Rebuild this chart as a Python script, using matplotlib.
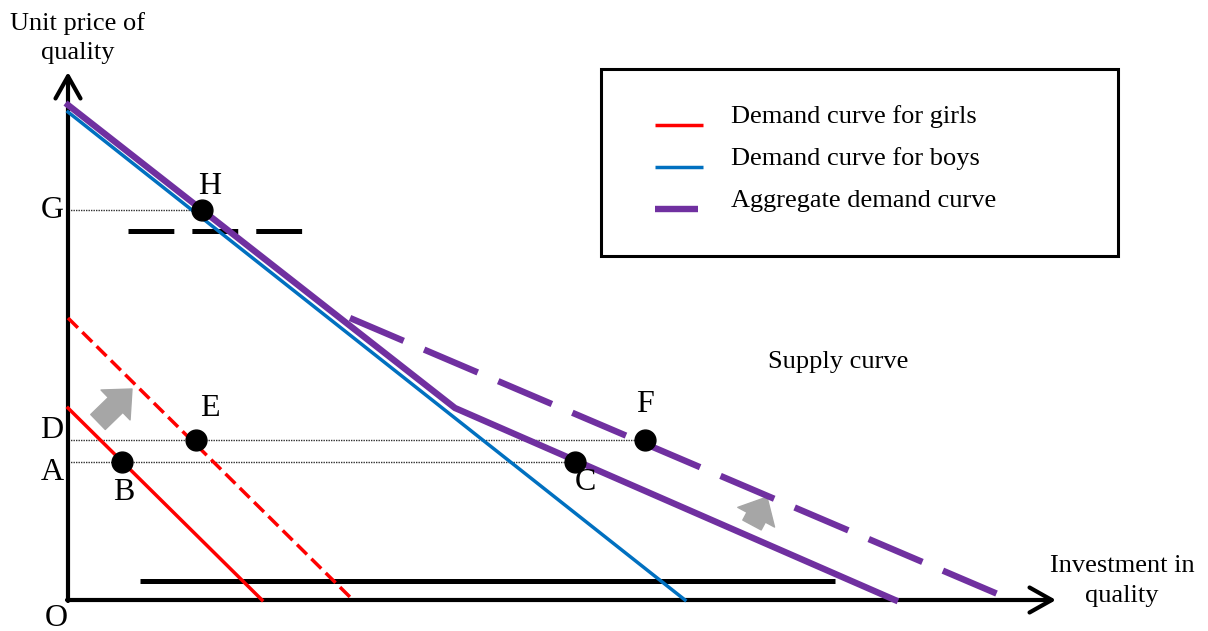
import matplotlib
matplotlib.use("Agg")
import matplotlib.pyplot as plt

plt.rcParams['font.family'] = ['Liberation Serif', 'DejaVu Serif']
plt.rcParams['lines.scale_dashes'] = False

# schematic values (origin O at 0,0)
boys_x = [0, 617]
boys_y = [488, 0]
girls_x = [0, 194]
girls_y = [192, 0]
girls_new_x = [0, 285]
girls_new_y = [282, 0]
agg_x = [0, 387, 827]
agg_y = [495, 192, 0]
agg_new_x = [282, 932]
agg_new_y = [282, 5]
supply_low_x = [72, 767]
supply_low_y = [19, 19]
supply_high_x = [60, 236]
supply_high_y = [369, 369]

# price levels and equilibrium points
price_G = 390
price_D = 160
price_A = 138
point_names = ['H', 'B', 'E', 'C', 'F']
point_x = [134, 54, 128, 507, 577]
point_y = [price_G, price_A, price_D, price_A, price_D]
# label offsets for each point
point_label_dx = [8, 2, 14, 10, 0]
point_label_dy = [24, -30, 32, -20, 35]

axis_labels = ['G', 'D', 'A']
axis_levels = [price_G, price_D, price_A]
axis_label_dy = [0, 10, -10]

legend_labels = ['Demand curve for girls', 'Demand curve for boys',
                 'Aggregate demand curve']

red = '#ff0000'
blue = '#0070c0'
purple = '#7030a0'
grey = '#a6a6a6'

fig = plt.figure(figsize=(12.08, 6.31), dpi=100)
ax = fig.add_axes([0, 0, 1, 1])
ax.set_xlim(-68, 1140)
ax.set_ylim(-31, 600)
ax.axis('off')

# axes with open arrowheads
ax_arrow = dict(arrowstyle='->,head_length=0.8,head_width=0.45', lw=3,
                color='black', shrinkA=0, shrinkB=0, mutation_scale=20)
ax.annotate('', xy=(0, 528), xytext=(0, -1), arrowprops=ax_arrow)
ax.annotate('', xy=(988, 0), xytext=(-1, 0), arrowprops=ax_arrow)

# dotted guide lines
for lev, px in [(price_G, point_x[0]), (price_D, point_x[4]), (price_A, point_x[3])]:
    ax.plot([0, px], [lev, lev], color='#303030', lw=1.0, ls=(0, (1, 0.8)), zorder=1)

# demand curves
ax.plot(girls_x, girls_y, color=red, lw=2.5, zorder=3)
ax.plot(girls_new_x, girls_new_y, color=red, lw=2.5, ls=(0, (10, 4.5)),
        dash_capstyle='butt', zorder=3)
ax.plot(boys_x, boys_y, color=blue, lw=2.5, zorder=3)
ax.plot(agg_x, agg_y, color=purple, lw=4.6, zorder=4, solid_joinstyle='miter')
ax.plot(agg_new_x, agg_new_y, color=purple, lw=4.6, ls=(0, (42, 16)),
        dash_capstyle='butt', zorder=4)

# supply curves
ax.plot(supply_low_x, supply_low_y, color='black', lw=3.6, solid_capstyle='butt', zorder=2)
ax.plot(supply_high_x, supply_high_y, color='black', lw=3.6, ls=(0, (33, 13)),
        dash_capstyle='butt', zorder=2)

# points
ax.plot(point_x, point_y, 'o', color='black', ms=15, zorder=6)
for name, x, y, dx, dy in zip(point_names, point_x, point_y, point_label_dx, point_label_dy):
    ax.text(x + dx, y + dy, name, fontsize=23, ha='center', va='center', zorder=7)
for name, lev, dy in zip(axis_labels, axis_levels, axis_label_dy):
    ax.text(-16, lev + dy, name, fontsize=23, ha='center', va='center')
ax.text(-12, -18, 'O', fontsize=23, ha='center', va='center')

# shift arrows
shift = dict(arrowstyle='simple,head_length=0.55,head_width=1.0,tail_width=0.5',
             color=grey, mutation_scale=30, shrinkA=0, shrinkB=0)
ax.annotate('', xy=(64, 211), xytext=(30, 178), arrowprops=shift)
ax.annotate('', xy=(699, 103), xytext=(684, 75), arrowprops=shift)

# axis titles
ax.text(10, 562, 'Unit price of\nquality', fontsize=19, ha='center', va='center',
        linespacing=1.42)
ax.text(1054, 19, 'Investment in\nquality', fontsize=19, ha='center', va='center',
        linespacing=1.42)
ax.text(770, 238, 'Supply curve', fontsize=19, ha='center', va='center')

# legend box, drawn by hand to match the original layout
ax.add_patch(plt.Rectangle((533, 344), 517, 187, fill=False, edgecolor='black',
                           lw=2.2, zorder=5))
legend_colors = [red, blue, purple]
legend_widths = [2.5, 2.5, 4.6]
legend_ends = [635, 635, 630]
for i, (lab, col, lw, x1) in enumerate(zip(legend_labels, legend_colors,
                                            legend_widths, legend_ends)):
    base = 477 - 42 * i
    ax.plot([587, x1], [base - 2, base - 2], color=col, lw=lw,
            solid_capstyle='butt', zorder=6)
    ax.text(663, base, lab, fontsize=19, ha='left', va='baseline', zorder=6)

fig.savefig('out.png', dpi=100)
